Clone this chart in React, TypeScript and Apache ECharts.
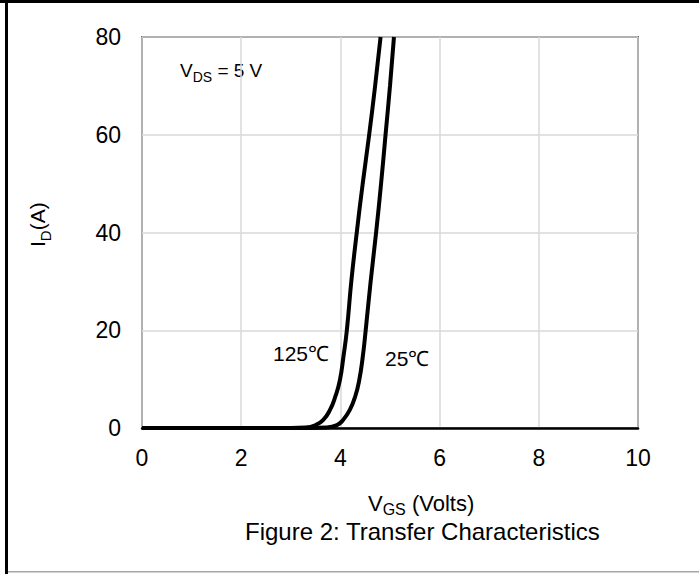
import React, { useEffect, useRef } from "react";
import * as echarts from "echarts";

const xTicks = [0, 2, 4, 6, 8, 10];
const yTicks = [0, 20, 40, 60, 80];

const vgs125 = [0, 3.0, 3.3, 3.5, 3.65, 3.79, 3.9, 3.99, 4.06, 4.13, 4.22, 4.33, 4.45, 4.58, 4.70, 4.81];
const id125 = [0, 0, 0.1, 0.6, 1.6, 3.7, 6.5, 9.8, 14.5, 20, 30, 40, 50, 60, 70, 80];

const vgs25 = [0, 3.4, 3.7, 3.93, 4.05, 4.19, 4.3, 4.38, 4.45, 4.51, 4.61, 4.72, 4.82, 4.91, 5.0, 5.08];
const id25 = [0, 0, 0.1, 0.6, 1.6, 3.7, 6.5, 9.8, 14.5, 20, 30, 40, 50, 60, 70, 80];

const FONT = "'Liberation Sans', Arial, sans-serif";

export default function App() {
  const ref = useRef<HTMLDivElement>(null);
  useEffect(() => {
    if (!ref.current) return;
    const chart = echarts.init(ref.current, undefined, { renderer: "svg" });
    const pair = (xs: number[], ys: number[]) => xs.map((x, i) => [x, ys[i]]);
    chart.setOption({
      animation: false,
      backgroundColor: "#fff",
      textStyle: { fontFamily: FONT },
      grid: {
        left: 142,
        right: 61,
        top: 37,
        bottom: 146,
        show: true,
        borderColor: "#000",
        borderWidth: 1.5,
        backgroundColor: "transparent",
      },
      xAxis: {
        type: "value",
        min: 0,
        max: 10,
        interval: 2,
        axisLine: { show: true, lineStyle: { color: "#000", width: 2.5 } },
        axisTick: { show: false },
        splitLine: { show: true, lineStyle: { color: "#d9d9d9", width: 1.5 } },
        axisLabel: {
          color: "#000",
          fontSize: 23,
          fontFamily: FONT,
          margin: 18,
          formatter: (v: number) => (xTicks.includes(v) ? String(v) : ""),
        },
      },
      yAxis: {
        type: "value",
        min: 0,
        max: 80,
        interval: 20,
        axisLine: { show: false },
        axisTick: { show: false },
        splitLine: { show: true, lineStyle: { color: "#d9d9d9", width: 1.5 } },
        axisLabel: {
          color: "#000",
          fontSize: 23,
          fontFamily: FONT,
          margin: 21,
          formatter: (v: number) => (yTicks.includes(v) ? String(v) : ""),
        },
      },
      series: [
        {
          name: "125℃",
          type: "line",
          data: pair(vgs125, id125),
          showSymbol: false,
          smooth: 0.5,
          clip: true,
          lineStyle: { color: "#000", width: 4 },
        },
        {
          name: "25℃",
          type: "line",
          data: pair(vgs25, id25),
          showSymbol: false,
          smooth: 0.5,
          clip: true,
          lineStyle: { color: "#000", width: 4 },
        },
      ],
      graphic: [
        { type: "rect", shape: { x: 0, y: 0, width: 699, height: 3 }, style: { fill: "#000" } },
        { type: "rect", shape: { x: 5, y: 0, width: 3, height: 574 }, style: { fill: "#000" } },
        { type: "rect", shape: { x: 8, y: 571, width: 691, height: 1.5 }, style: { fill: "#a6a6a6" } },
        {
          type: "text",
          left: 180,
          top: 61,
          style: {
            text: "{m|V}{s|DS}{m| = 5 V}",
            rich: {
              m: { fontSize: 19, fontFamily: FONT, fill: "#000", verticalAlign: "bottom" },
              s: { fontSize: 14, fontFamily: FONT, fill: "#000", verticalAlign: "bottom", padding: [0, 0, -4, 0] },
            },
          },
        },
        {
          type: "text",
          x: 273,
          y: 343,
          style: { text: "125℃", fontSize: 21, fontFamily: FONT, fill: "#000" },
        },
        {
          type: "text",
          x: 385,
          y: 348,
          style: { text: "25℃", fontSize: 21, fontFamily: FONT, fill: "#000" },
        },
        {
          type: "text",
          x: 27,
          y: 247,
          rotation: Math.PI / 2,
          style: {
            text: "{m|I}{s|D}{m|(A)}",
            rich: {
              m: { fontSize: 21, fontFamily: FONT, fill: "#000", verticalAlign: "bottom" },
              s: { fontSize: 15, fontFamily: FONT, fill: "#000", verticalAlign: "bottom", padding: [0, 0, -5, 0] },
            },
          },
        },
        {
          type: "text",
          left: 368,
          top: 492,
          style: {
            text: "{m|V}{s|GS}{m| (Volts)}",
            rich: {
              m: { fontSize: 22, fontFamily: FONT, fill: "#000", verticalAlign: "bottom", lineHeight: 22 },
              s: { fontSize: 16, fontFamily: FONT, fill: "#000", verticalAlign: "bottom", lineHeight: 16, padding: [0, 0, -3, 0] },
            },
          },
        },
        {
          type: "text",
          left: 245,
          top: 519,
          style: { text: "Figure 2: Transfer Characteristics", fontSize: 24, lineHeight: 22, fontFamily: FONT, fill: "#000" },
        },
      ],
    });
    return () => chart.dispose();
  }, []);
  return <div ref={ref} style={{ width: 699, height: 574, position: "absolute", left: 0, top: 0 }} />;
}
